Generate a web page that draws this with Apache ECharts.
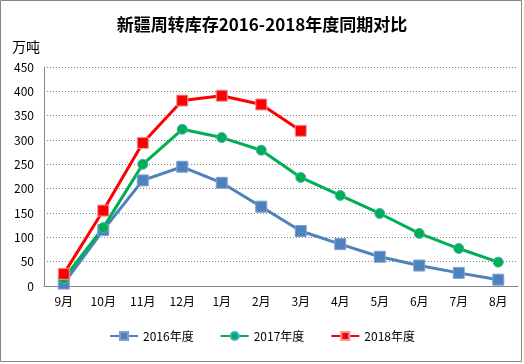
<!DOCTYPE html>
<html><head><meta charset="utf-8">
<script src="https://cdn.jsdelivr.net/npm/echarts@6/dist/echarts.min.js"></script>
<style>html,body{margin:0;padding:0;background:#fff}#c{width:524px;height:364px}</style>
</head><body><div id="c"></div>
<script>
const categories = ['9月','10月','11月','12月','1月','2月','3月','4月','5月','6月','7月','8月'];
const s2016 = [5, 115, 217, 245, 212, 163, 113, 86, 60, 42, 27, 13];
const s2017 = [15, 120, 250, 322, 305, 279, 223, 186, 149, 108, 77, 49];
const s2018 = [25, 155, 294, 381, 391, 373, 319];
const seriesNames = ['2016年度','2017年度','2018年度'];
const yTicks = {min: 0, max: 450, interval: 50};

const chart = echarts.init(document.getElementById('c'), null, {renderer: 'canvas'});
const font = '"Noto Sans CJK SC", "Noto Sans", sans-serif';
chart.setOption({
  animation: false,
  backgroundColor: '#fff',
  title: {
    text: '新疆周转库存2016-2018年度同期对比',
    left: 'center', top: 11,
    textStyle: {fontFamily: font, fontSize: 17, fontWeight: 'bold', color: '#000'}
  },
  graphic: [
    {type: 'rect', shape: {x: 0.5, y: 0.5, width: 521, height: 361}, style: {fill: 'none', stroke: '#868686', lineWidth: 1}, silent: true, z: 100},
    {type: 'text', left: 12, top: 40, style: {text: '万吨', font: '14px ' + font, fill: '#000'}}
  ],
  legend: {
    bottom: 17, left: 'center', itemGap: 26, itemWidth: 28, itemHeight: 10,
    textStyle: {fontFamily: font, fontSize: 12, color: '#000'},
    data: seriesNames
  },
  grid: {left: 44, right: 6, top: 67, bottom: 78},
  xAxis: {
    type: 'category', data: categories, boundaryGap: true,
    axisLine: {lineStyle: {color: '#868686', width: 1}},
    axisTick: {show: false},
    axisLabel: {color: '#000', fontFamily: font, fontSize: 12, margin: 9}
  },
  yAxis: {
    type: 'value', min: yTicks.min, max: yTicks.max, interval: yTicks.interval,
    axisLine: {show: true, lineStyle: {color: '#868686', width: 1}},
    axisTick: {show: false},
    axisLabel: {color: '#000', fontFamily: font, fontSize: 12, margin: 10},
    splitLine: {lineStyle: {color: '#808080', type: [1, 2], width: 1}}
  },
  series: [
    {name: seriesNames[0], type: 'line', data: s2016, symbol: 'rect', symbolSize: 11,
     lineStyle: {color: '#4F81BD', width: 3}, itemStyle: {color: '#4F81BD', borderColor: '#7FA2D6', borderWidth: 1}},
    {name: seriesNames[1], type: 'line', data: s2017, symbol: 'circle', symbolSize: 10,
     lineStyle: {color: '#00B050', width: 3}, itemStyle: {color: '#00B050', borderColor: '#4BACC6', borderWidth: 1}},
    {name: seriesNames[2], type: 'line', data: s2018, symbol: 'rect', symbolSize: 11,
     lineStyle: {color: '#FF0000', width: 3}, itemStyle: {color: '#FF0000', borderColor: '#E39A9A', borderWidth: 1}}
  ]
});
</script></body></html>
